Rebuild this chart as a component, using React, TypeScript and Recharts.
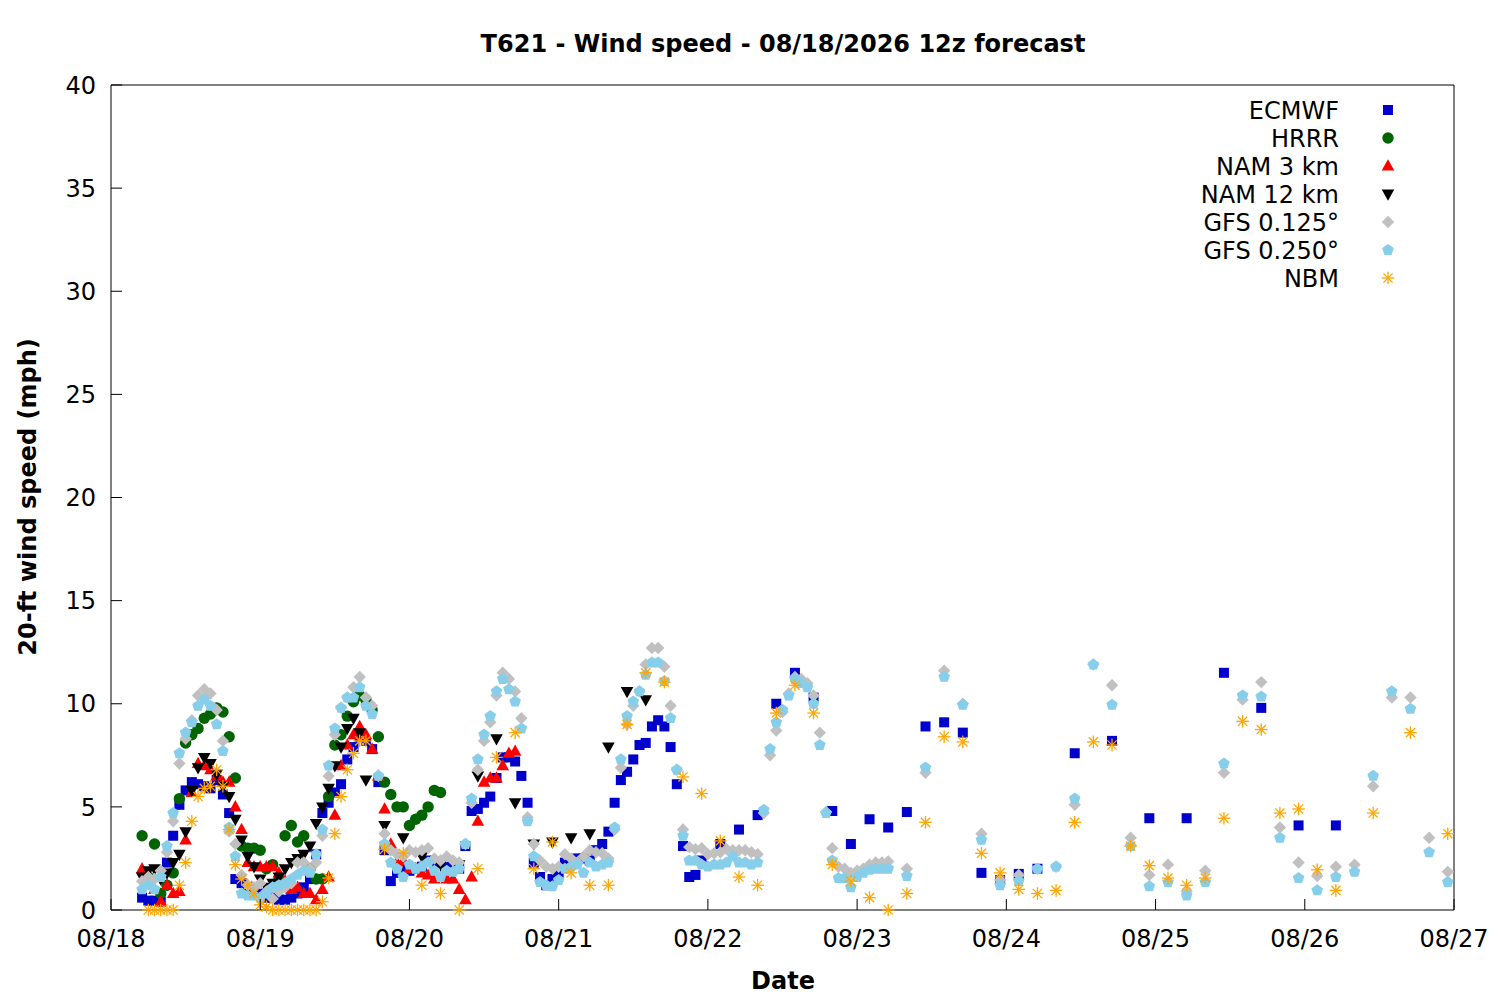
import { ScatterChart, Scatter, XAxis, YAxis, Legend } from "recharts"

const FONT = '"DejaVu Sans", sans-serif'

// x axis: hours since 08/18 00 local, one tick per day
const dayTicks = [0, 24, 48, 72, 96, 120, 144, 168, 192, 216]
const dayLabels = ["08/18", "08/19", "08/20", "08/21", "08/22", "08/23", "08/24", "08/25", "08/26", "08/27"]
const speedTicks = [0, 5, 10, 15, 20, 25, 30, 35, 40]

const range = (start: number, end: number, step: number) => {
  const out: number[] = []
  for (let h = start; h <= end; h += step) out.push(h)
  return out
}

// ECMWF: hourly, then 3-hourly, then 6-hourly
const ecmwfHours = [...range(5, 95, 1), ...range(98, 149, 3), ...range(155, 197, 6)]
const ecmwfSpeed = [
  0.6, 0.45, 0.45, 0.4, 2.3, 3.6, 5.1, 5.8, 6.2, 6.1,
  6.0, 5.9, 6.3, 5.6, 4.7, 1.5, 1.3, 1.1, 0.9, 0.8,
  0.6, 0.6, 0.5, 0.5, 0.6, 0.8, 1.1, 1.5, 2.7, 4.7,
  5.2, 5.7, 6.1, 7.3, 7.9, 8.4, 8.2, 7.8, 6.2, 2.9,
  1.4, 1.8, 2.0, 1.9, 2.0, 2.1, 2.4, 2.3, 2.2, 2.1,
  2.0, 2.0, 3.1, 4.8, 4.9, 5.2, 5.5, 6.4, 7.4, 7.4,
  7.2, 6.5, 5.2, 2.3, 1.6, 1.2, 1.5, 1.8, 2.3, 2.4,
  2.5, 2.5, 2.4, 2.9, 3.2, 3.8, 5.2, 6.3, 6.7, 7.3,
  8.0, 8.1, 8.9, 9.2, 8.9, 7.9, 6.1, 3.1, 1.6, 1.7,
  2.4,
  3.2, 3.9, 4.6, 10.0, 11.5, 10.3, 4.8, 3.2, 4.4, 4.0,
  4.75, 8.9, 9.1, 8.6, 1.8, 1.45, 1.75, 2.0,
  7.6, 8.2, 4.45, 4.45, 11.5, 9.8, 4.1, 4.1,
]

const hrrrHours = range(5, 53, 1)
const hrrrSpeed = [
  3.6, 1.6, 3.2, 0.8, 1.2, 1.8, 5.4, 8.1, 8.5, 8.8,
  9.3, 9.5, 9.8, 9.6, 8.4, 6.4, 3.1, 3.0, 3.0, 2.9,
  2.0, 2.2, 1.5, 3.6, 4.1, 3.3, 3.6, 2.0, 1.5, 1.5,
  5.5, 8.0, 8.5, 9.4, 10.1, 10.4, 10.2, 9.7, 8.4, 6.2,
  5.6, 5.0, 5.0, 4.1, 4.4, 4.6, 5.0, 5.8, 5.7,
]

const nam3Hours = range(5, 65, 1)
const nam3Speed = [
  2.0, 1.6, 1.0, 0.4, 1.2, 0.8, 0.9, 3.4, 5.7, 7.1,
  7.0, 6.8, 6.5, 6.2, 6.2, 5.0, 3.9, 2.3, 2.1, 2.1,
  2.1, 2.1, 1.8, 1.4, 1.0, 1.1, 0.8, 0.8, 0.5, 1.0,
  1.6, 4.6, 7.0, 8.0, 8.5, 8.9, 8.5, 7.8, 6.5, 4.9,
  3.2, 2.3, 2.4, 2.0, 2.0, 1.8, 1.7, 1.5, 1.6, 1.5,
  1.5, 1.0, 0.5, 1.6, 4.3, 6.2, 6.4, 6.4, 7.0, 7.6,
  7.7,
]

const nam12Hours = [...range(5, 41, 1), ...range(44, 86, 3)]
const nam12Speed = [
  1.6, 1.9, 2.0, 1.5, 1.8, 2.3, 2.7, 3.8, 5.8, 6.9,
  7.4, 7.1, 6.6, 6.0, 5.5, 4.4, 3.4, 2.6, 2.1, 1.5,
  1.1, 1.3, 1.6, 2.0, 2.3, 2.5, 2.7, 3.1, 4.2, 5.0,
  5.9, 7.0, 7.9, 8.8, 9.3, 8.6, 6.3,
  4.1, 3.5, 2.6, 2.2, 2.2, 6.5, 8.3, 5.2, 3.2, 3.3,
  3.5, 3.7, 7.9, 10.6, 10.2,
]

const gfsHours = [...range(5, 125, 1), ...range(128, 215, 3)]
const gfs0125Speed = [
  1.4, 1.6, 1.5, 1.9, 2.8, 4.3, 7.1, 8.3, 9.2, 10.4,
  10.7, 10.5, 9.7, 8.2, 3.8, 3.2, 1.7, 1.2, 1.1, 1.3,
  0.9, 0.55, 0.9, 1.1, 1.3, 2.3, 2.3, 2.0, 2.3, 3.6,
  6.5, 8.5, 9.8, 10.3, 10.8, 11.3, 10.3, 9.9, 6.5, 3.7,
  2.9, 2.7, 2.6, 2.9, 2.8, 2.9, 3.0, 2.5, 2.4, 2.6,
  2.4, 2.3, 3.2, 5.2, 6.8, 8.2, 9.1, 10.4, 11.5, 11.2,
  10.6, 9.3, 4.5, 3.2, 2.4, 2.1, 2.0, 2.1, 2.7, 2.5,
  2.3, 2.6, 2.9, 2.8, 2.75, 2.5, 3.9, 6.9, 9.0, 9.9,
  10.6, 11.9, 12.7, 12.7, 11.8, 9.9, 6.8, 3.9, 3.05, 2.95,
  3.0, 2.7, 2.75, 2.8, 2.95, 2.9, 2.9, 2.9, 2.8, 2.7,
  4.7, 7.5, 8.7, 9.6, 10.5, 11.3, 11.2, 11.0, 10.4, 8.6,
  4.75, 3.0, 2.1, 2.0, 1.8, 1.9, 2.0, 2.2, 2.3, 2.3,
  2.35,
  2.0, 6.65, 11.6, 10.0, 3.7, 1.45, 1.7, 2.0, 2.1, 5.1,
  11.9, 10.9, 3.5, 1.7, 2.2, 0.9, 1.9, 6.65, 10.2, 11.05,
  4.0, 2.3, 1.65, 2.1, 2.2, 6.0, 10.3, 10.3, 3.5, 1.85,
]
const gfs0250Speed = [
  1.0, 1.2, 1.0, 1.6, 3.1, 4.7, 7.6, 8.6, 9.1, 9.9,
  10.2, 9.9, 9.0, 7.7, 4.0, 2.6, 0.8, 0.7, 0.7, 0.6,
  0.8, 1.1, 1.2, 1.3, 1.5, 1.7, 1.9, 1.8, 2.7, 3.9,
  7.0, 8.8, 9.8, 10.3, 10.3, 10.8, 9.9, 9.5, 6.5, 3.2,
  2.3, 2.0, 1.6, 2.2, 2.0, 2.1, 2.3, 1.9, 1.6, 1.9,
  1.85, 2.0, 3.2, 5.4, 7.3, 8.5, 9.4, 10.6, 11.2, 10.7,
  10.1, 8.8, 4.3, 2.6, 1.35, 1.2, 1.15, 1.45, 2.0, 2.1,
  2.2, 1.8, 2.3, 2.1, 2.2, 2.3, 4.0, 7.3, 9.4, 10.1,
  10.6, 11.4, 12.0, 12.0, 11.1, 9.3, 6.8, 3.6, 2.4, 2.4,
  2.2, 2.1, 2.2, 2.2, 2.3, 2.6, 2.3, 2.3, 2.2, 2.3,
  4.85, 7.8, 9.1, 9.7, 10.4, 11.2, 11.0, 10.8, 10.0, 8.0,
  4.7, 2.4, 1.55, 1.55, 1.1, 1.6, 1.8, 1.95, 2.0, 2.0,
  2.0,
  1.65, 6.9, 11.3, 9.95, 3.4, 1.2, 1.4, 2.0, 2.1, 5.4,
  11.9, 9.95, 3.1, 1.15, 1.35, 0.7, 1.35, 7.1, 10.4, 10.35,
  3.5, 1.55, 0.95, 1.6, 1.85, 6.5, 10.6, 9.75, 2.8, 1.35,
]

const nbmHours = [...range(6, 41, 1), ...range(44, 197, 3), ...range(203, 215, 6)]
const nbmSpeed = [
  0, 0, 0, 0, 0, 1.2, 2.3, 4.3, 5.5, 5.9,
  6.0, 6.8, 6.0, 3.9, 2.2, 1.5, 1.2, 0.8, 0.25, 0.15,
  0, 0, 0, 0, 0, 0, 0, 0, 0.4, 1.55,
  3.7, 5.5, 6.8, 7.6, 8.2, 8.2,
  2.95, 2.75, 1.2, 0.8, 0, 2.0, 7.4, 8.6, 2.0, 3.3,
  1.8, 1.2, 1.2, 9.0, 11.5, 11.05, 6.45, 5.65, 3.35, 1.6,
  1.2, 9.55, 10.9, 9.55, 2.2, 1.4, 0.6, 0, 0.8, 4.25,
  8.4, 8.15, 2.75, 1.8, 1.0, 0.8, 0.95, 4.25, 8.15, 8.0,
  3.1, 2.15, 1.55, 1.2, 1.55, 4.45, 9.15, 8.75, 4.7, 4.9,
  1.95, 0.95,
  4.7, 8.6, 3.7,
]

const toPoints = (hours: number[], speed: number[]) =>
  hours.map((h, i) => ({ x: h, y: speed[i] }))

type Kind = "square" | "circle" | "up" | "down" | "diamond" | "pentagon" | "star"

const models: { name: string; color: string; kind: Kind; data: { x: number; y: number }[] }[] = [
  { name: "ECMWF", color: "#0000cc", kind: "square", data: toPoints(ecmwfHours, ecmwfSpeed) },
  { name: "HRRR", color: "#006400", kind: "circle", data: toPoints(hrrrHours, hrrrSpeed) },
  { name: "NAM 3 km", color: "#ff0000", kind: "up", data: toPoints(nam3Hours, nam3Speed) },
  { name: "NAM 12 km", color: "#000000", kind: "down", data: toPoints(nam12Hours, nam12Speed) },
  { name: "GFS 0.125°", color: "#c0c0c0", kind: "diamond", data: toPoints(gfsHours, gfs0125Speed) },
  { name: "GFS 0.250°", color: "#87ceeb", kind: "pentagon", data: toPoints(gfsHours, gfs0250Speed) },
  { name: "NBM", color: "#ffa500", kind: "star", data: toPoints(nbmHours, nbmSpeed) },
]

function Marker({ kind, cx, cy, color }: { kind: Kind; cx: number; cy: number; color: string }) {
  if (cx == null || cy == null) return null
  switch (kind) {
    case "square":
      return <rect x={cx - 5} y={cy - 5} width={10} height={10} fill={color} />
    case "circle":
      return <circle cx={cx} cy={cy} r={5.7} fill={color} />
    case "up":
      return <polygon points={`${cx},${cy - 6.8} ${cx - 6.3},${cy + 4.5} ${cx + 6.3},${cy + 4.5}`} fill={color} />
    case "down":
      return <polygon points={`${cx},${cy + 6.8} ${cx - 6.3},${cy - 4.5} ${cx + 6.3},${cy - 4.5}`} fill={color} />
    case "diamond":
      return <polygon points={`${cx},${cy - 6.2} ${cx + 6.2},${cy} ${cx},${cy + 6.2} ${cx - 6.2},${cy}`} fill={color} />
    case "pentagon": {
      const pts = [0, 1, 2, 3, 4]
        .map((k) => {
          const a = ((-90 + 72 * k) * Math.PI) / 180
          return `${cx + 6.1 * Math.cos(a)},${cy + 6.1 * Math.sin(a)}`
        })
        .join(" ")
      return <polygon points={pts} fill={color} />
    }
    default:
      return (
        <g stroke={color} strokeWidth={1.3}>
          <line x1={cx - 6.3} y1={cy} x2={cx + 6.3} y2={cy} />
          <line x1={cx} y1={cy - 6.3} x2={cx} y2={cy + 6.3} />
          <line x1={cx - 4.6} y1={cy - 4.6} x2={cx + 4.6} y2={cy + 4.6} />
          <line x1={cx - 4.6} y1={cy + 4.6} x2={cx + 4.6} y2={cy - 4.6} />
        </g>
      )
  }
}

const TICK_LEN = 11

const BottomTick = ({ x, y, payload }: any) => (
  <g>
    <line x1={x} x2={x} y1={y} y2={y - TICK_LEN} stroke="#000" />
    <text x={x} y={y + 37} textAnchor="middle" fontSize={24} fontFamily={FONT} fill="#000">
      {dayLabels[dayTicks.indexOf(payload.value)]}
    </text>
  </g>
)
const TopTick = ({ x, y }: any) => <line x1={x} x2={x} y1={y} y2={y + TICK_LEN} stroke="#000" />
const LeftTick = ({ x, y, payload }: any) => (
  <g>
    <line x1={x} x2={x + TICK_LEN} y1={y} y2={y} stroke="#000" />
    <text x={x - 15} y={y + 8.7} textAnchor="end" fontSize={24} fontFamily={FONT} fill="#000">
      {payload.value}
    </text>
  </g>
)
const RightTick = ({ x, y }: any) => <line x1={x} x2={x - TICK_LEN} y1={y} y2={y} stroke="#000" />

const renderLegend = () => (
  <svg width={240} height={200}>
    {models.map((m, i) => {
      const cy = 14 + 28 * i
      return (
        <g key={m.name}>
          <text x={159} y={cy + 8.7} textAnchor="end" fontSize={24} fontFamily={FONT} fill="#000">
            {m.name}
          </text>
          <Marker kind={m.kind} cx={208} cy={cy} color={m.color} />
        </g>
      )
    })}
  </svg>
)

export default function App() {
  return (
    <div style={{ position: "absolute", left: 0, top: 0, width: 1500, height: 1000, background: "#fff", fontFamily: FONT }}>
      <ScatterChart width={1500} height={1000} margin={{ top: 84, right: 45, bottom: 60, left: 51 }}>
        <XAxis
          xAxisId="b"
          type="number"
          dataKey="x"
          domain={[0, 216]}
          ticks={dayTicks}
          interval={0}
          tickSize={0}
          tickMargin={0}
          tickLine={false}
          height={30}
          axisLine={{ stroke: "#000", strokeWidth: 1 }}
          tick={BottomTick}
        />
        <XAxis
          xAxisId="t"
          orientation="top"
          type="number"
          dataKey="x"
          domain={[0, 216]}
          ticks={dayTicks}
          interval={0}
          tickSize={0}
          tickMargin={0}
          tickLine={false}
          height={1}
          axisLine={{ stroke: "#000", strokeWidth: 1 }}
          tick={TopTick}
        />
        <YAxis
          yAxisId="l"
          type="number"
          dataKey="y"
          domain={[0, 40]}
          ticks={speedTicks}
          interval={0}
          tickSize={0}
          tickMargin={0}
          tickLine={false}
          width={60}
          axisLine={{ stroke: "#000", strokeWidth: 1 }}
          tick={LeftTick}
        />
        <YAxis
          yAxisId="r"
          orientation="right"
          type="number"
          dataKey="y"
          domain={[0, 40]}
          ticks={speedTicks}
          interval={0}
          tickSize={0}
          tickMargin={0}
          tickLine={false}
          width={1}
          axisLine={{ stroke: "#000", strokeWidth: 1 }}
          tick={RightTick}
        />
        <Legend
          layout="horizontal"
          verticalAlign="middle"
          align="center"
          content={renderLegend}
          wrapperStyle={{ top: 96, left: 1180, width: 240, height: 200 }}
        />
        {models.map((m) => (
          <Scatter
            key={m.name}
            name={m.name}
            data={m.data}
            xAxisId="b"
            yAxisId="l"
            fill={m.color}
            isAnimationActive={false}
            shape={(p: any) => <Marker kind={m.kind} cx={p.cx} cy={p.cy} color={m.color} />}
          />
        ))}
        {/* empty series so the mirrored top/right axes get drawn */}
        <Scatter data={[]} xAxisId="t" yAxisId="r" legendType="none" isAnimationActive={false} />
      </ScatterChart>
      <svg
        width={1500}
        height={1000}
        style={{ position: "absolute", left: 0, top: 0, pointerEvents: "none" }}
      >
        <text x={783} y={52} textAnchor="middle" fontSize={24} fontWeight="bold" fontFamily={FONT} fill="#000">
          T621 - Wind speed - 08/18/2026 12z forecast
        </text>
        <text x={783} y={989} textAnchor="middle" fontSize={24} fontWeight="bold" fontFamily={FONT} fill="#000">
          Date
        </text>
        <text
          x={0}
          y={0}
          transform="translate(36, 497) rotate(-90)"
          textAnchor="middle"
          fontSize={24}
          fontWeight="bold"
          fontFamily={FONT}
          fill="#000"
        >
          20-ft wind speed (mph)
        </text>
      </svg>
    </div>
  )
}
